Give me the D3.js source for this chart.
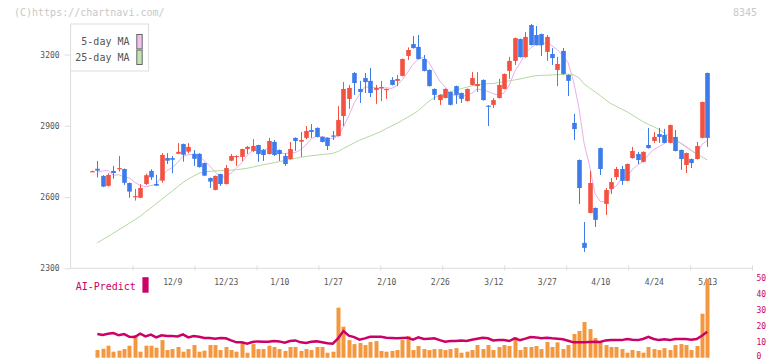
<!DOCTYPE html>
<html><head><meta charset="utf-8">
<script src="https://cdn.jsdelivr.net/npm/d3@7"></script>
<style>body{margin:0;background:#fff}svg{display:block}</style>
</head><body><svg id="c" width="772" height="361"></svg>
<script>
// ---- data (index = trading day) ----
const open=[2707,2719,2689,2647,2710,2719,2718,2659,2601,2597,
2655,2710,2655,2669,2764,2764,2782,2823,2791,2782,
2782,2743,2680,2630,2697,2655,2753,2769,2769,2802,
2794,2819,2798,2781,2832,2798,2773,2760,2849,2833,
2849,2882,2891,2853,2849,2859,2857,2941,3013,3122,
3055,3101,3089,3051,3059,3051,3093,3089,3110,3194,
3244,3232,3181,3135,3055,3008,3017,3042,3067,3038,
3004,3072,3067,3093,2985,2988,3017,3055,3131,3173,
3265,3189,3324,3282,3286,3211,3202,3135,3215,3114,
2912,2756,2407,2533,2554,2806,2571,2634,2684,2718,
2668,2764,2781,2748,2819,2836,2865,2861,2828,2853,
2798,2735,2760,2760,2849,3122];
const high=[2711,2752,2692,2700,2731,2773,2720,2661,2634,2654,
2698,2717,2693,2785,2785,2773,2827,2825,2827,2798,
2784,2745,2682,2690,2698,2735,2781,2775,2803,2815,
2844,2820,2802,2849,2840,2800,2785,2832,2851,2874,
2899,2907,2893,2855,2851,2878,2983,3084,3072,3126,
3089,3122,3143,3072,3089,3056,3105,3114,3183,3230,
3278,3282,3198,3137,3057,3032,3057,3044,3069,3040,
3057,3126,3126,3095,2986,3017,3097,3120,3190,3271,
3267,3295,3328,3320,3288,3282,3227,3190,3227,3116,
2950,2758,2495,2710,2556,2808,2638,2680,2727,2731,
2741,2811,2790,2792,2891,2874,2891,2887,2905,2882,
2800,2787,2762,2832,3002,3124];
const low=[2705,2683,2642,2644,2677,2707,2651,2597,2585,2595,
2651,2672,2646,2660,2739,2700,2780,2749,2784,2731,
2724,2688,2638,2628,2647,2653,2751,2731,2752,2781,
2790,2748,2752,2779,2773,2752,2731,2758,2794,2769,
2844,2849,2851,2830,2798,2840,2855,2899,2971,3030,
2996,3038,3021,2992,3004,3013,3070,3067,3108,3177,
3225,3179,3129,3065,3008,2988,3015,2986,2992,2996,
3002,3070,3042,3006,2899,2975,3015,3053,3097,3156,
3187,3187,3238,3238,3194,3173,3156,3067,3116,3025,
2840,2571,2369,2531,2474,2693,2524,2613,2672,2651,
2666,2762,2739,2746,2804,2828,2828,2826,2826,2792,
2714,2701,2722,2758,2847,2811];
const close=[2709,2711,2644,2693,2701,2722,2660,2623,2604,2638,
2692,2683,2648,2777,2753,2757,2790,2778,2811,2761,
2726,2690,2665,2689,2655,2722,2773,2773,2802,2811,
2815,2781,2777,2836,2777,2781,2739,2802,2836,2840,
2878,2874,2853,2832,2815,2856,2924,3055,3059,3080,
3042,3084,3038,3059,3063,3055,3072,3097,3181,3219,
3227,3181,3131,3067,3030,3030,3055,2988,3030,3013,
3055,3101,3076,3008,2982,3008,3072,3118,3173,3269,
3189,3274,3240,3240,3240,3274,3185,3160,3118,3089,
2886,2638,2386,2659,2504,2718,2630,2663,2718,2668,
2739,2794,2756,2790,2806,2853,2853,2828,2903,2794,
2760,2785,2743,2815,3000,2849];
const ma5=[null,2704,2710,2712,2691,2694,2684,2680,2662,2649,
2643,2648,2653,2688,2711,2724,2745,2771,2778,2779,
2773,2753,2731,2706,2685,2684,2701,2722,2745,2776,
2795,2796,2797,2804,2797,2790,2782,2787,2787,2800,
2819,2846,2856,2855,2850,2846,2856,2896,2942,2995,
3032,3064,3061,3061,3057,3060,3057,3069,3094,3125,
3159,3181,3188,3165,3127,3088,3063,3034,3027,3023,
3028,3037,3055,3051,3044,3035,3029,3038,3071,3128,
3164,3205,3229,3242,3237,3254,3236,3220,3195,3165,
3088,2978,2823,2732,2615,2581,2579,2635,2647,2679,
2684,2716,2735,2749,2777,2800,2812,2826,2849,2846,
2828,2814,2797,2779,2821,2838];
const ma25=[null,2407,2421,2434,2448,2462,2476,2490,2504,2519,
2537,2554,2572,2590,2608,2625,2643,2661,2676,2688,
2700,2706,2708,2710,2711,2712,2713,2715,2718,2721,
2726,2731,2736,2740,2744,2749,2754,2758,2763,2767,
2771,2774,2776,2779,2781,2784,2792,2804,2816,2828,
2839,2848,2857,2866,2876,2888,2899,2910,2923,2936,
2949,2964,2984,3004,3018,3029,3036,3043,3050,3056,
3062,3068,3073,3075,3077,3078,3082,3085,3089,3093,
3097,3102,3107,3111,3112,3113,3114,3115,3116,3117,
3115,3102,3076,3059,3043,3027,3009,2993,2982,2970,
2959,2945,2931,2917,2906,2896,2884,2869,2855,2841,
2826,2811,2796,2782,2769,2756];
const volume=[null,4.8,5.6,7.5,3.75,4.4,5.4,7.5,14.2,3.75,
7.5,7.5,6.25,11,4.8,5.4,6.7,3.75,5.4,7.9,
3.75,4.4,7.9,7.9,4.8,6.7,4.8,3.75,9.4,3.1,
8.5,5.4,5.4,7.5,6.7,5.4,4.2,6.7,6.7,4.2,
5.4,4.8,6.7,6.7,3.1,3.75,31.25,19.4,11,8.5,
9.2,7.9,9.8,10.4,4.2,3.75,4.2,4.8,11,13.5,
4.8,7.3,5.4,4.8,5.4,5.4,4.8,5.4,6,3.1,
3.75,4.8,7.9,5.4,7.9,4.8,6.7,7.9,7.3,12.9,
4.8,6.7,6.7,7.3,5.4,9.8,6.7,9.6,5.4,7.9,
14.8,16.7,22.3,17.9,12.3,9.2,7.9,6.7,6.7,5.4,
3.1,4.8,4.2,3.1,6.7,5.4,4.8,6,4.8,7.9,
8.5,7.9,4.8,7.3,27.5,49.2];
const aiPredict=[null,14.8,14.2,15.0,15.4,14.0,14.8,13.1,12.9,15.0,
13.3,14.4,12.7,14.0,13.5,13.5,13.3,14.6,12.7,13.5,
13.1,12.3,12.3,11.9,12.3,12.1,10.8,9.6,9.6,8.75,
9.8,10.2,10,10,10.4,10.2,9.4,10.4,10.8,9.6,
9.2,10,10.2,9.6,9,8.75,12.1,16.7,13.75,12.9,
11.25,12.1,13.1,13.1,13.1,12.5,12.3,12.1,12.3,12.5,
11.25,12.7,11.7,11.9,12.1,11,10,10.4,10.4,10.8,
10.4,11.25,11.9,12.5,12.1,10.8,11,11,10.4,12.1,
11,11.9,12.9,12.7,12.1,12.5,12.1,11.9,11.5,10.6,
9.6,9.6,9.6,9.8,10,9.8,10.8,11,11,11,
11.7,11.25,11,11.7,13.1,11.7,11,11.5,11,11.7,
11.7,11.7,11.25,11.7,13.75,16.25];
const dateLabels=["12/9","12/23","1/10","1/27","2/10","2/26","3/12","3/27","4/10","4/24","5/13"];
const dateIndex=[15,25,35,45,55,65,75,85,95,105,115];
const priceTicks=[2300,2600,2900,3200];
const volTicks=[0,10,20,30,40,50];

// ---- drawing ----
const svg=d3.select('#c');
const mono='"DejaVu Sans Mono", "Liberation Mono", monospace';
const UP='#f25241', DOWN='#3d7bea', AXIS='#dddddd', TXT='#555555', MAG='#cc0066';
const idx=d3.range(open.length);
const x=d3.scaleLinear().domain([0,115]).range([92,707.25]);
const y=d3.scaleLinear().domain([2300,3200]).range([268.3,54.5]);
const vy=d3.scaleLinear().domain([0,50]).range([357.7,277.7]);
const grid=d3.scaleLinear().domain([0,11]).range([70.6,752]);

// watermark
svg.append('text').attr('x',14).attr('y',15.5).attr('font-family',mono).attr('font-size',10)
  .attr('fill','#c8c8c8').text('(C)https://chartnavi.com/');
svg.append('text').attr('x',757).attr('y',15.5).attr('text-anchor','end').attr('font-family',mono)
  .attr('font-size',10).attr('fill','#c8c8c8').text('8345');

// y axis
const ya=svg.append('g').attr('transform','translate(70.6,0)')
  .call(d3.axisLeft(y).tickValues(priceTicks).tickSize(6).tickPadding(5).tickFormat(d3.format('d')));
ya.select('.domain').remove();
ya.selectAll('line').attr('stroke',AXIS);
ya.selectAll('text').attr('font-family',mono).attr('font-size',8).attr('fill',TXT);
svg.append('line').attr('x1',70.6).attr('x2',70.6).attr('y1',24).attr('y2',y(2300)).attr('stroke',AXIS);

// x axis grid ticks
const xa=svg.append('g').attr('transform',`translate(0,${y(2300)})`)
  .call(d3.axisBottom(grid).tickValues(d3.range(1,12)).tickSize(2).tickFormat(''));
xa.select('.domain').remove();
xa.selectAll('line').attr('stroke',AXIS).attr('y1',-3);
svg.append('line').attr('x1',70.6).attr('x2',752).attr('y1',y(2300)).attr('y2',y(2300)).attr('stroke',AXIS);

// date labels
const xl=svg.append('g').attr('transform',`translate(0,${y(2300)})`)
  .call(d3.axisBottom(x).tickValues(dateIndex).tickSize(0).tickPadding(11).tickFormat((d,i)=>dateLabels[i]));
xl.select('.domain').remove();
xl.selectAll('text').attr('font-family',mono).attr('font-size',8).attr('fill',TXT);

// moving averages
const lineOf=(arr)=>d3.line().defined(i=>arr[i]!=null).x(i=>x(i)).y(i=>y(arr[i]));
svg.append('path').datum(idx).attr('d',lineOf(ma25)).attr('fill','none').attr('stroke','#b3d9a3').attr('stroke-width',1);
svg.append('path').datum(idx).attr('d',lineOf(ma5)).attr('fill','none').attr('stroke','#e8b0ea').attr('stroke-width',1);

// candles
const cw=4.6;
const cg=svg.append('g').selectAll('g').data(idx).join('g')
  .attr('fill',i=>close[i]>=open[i]?UP:DOWN).attr('stroke',i=>close[i]>=open[i]?UP:DOWN);
cg.append('line').attr('x1',i=>Math.round(x(i))+0.5).attr('x2',i=>Math.round(x(i))+0.5)
  .attr('y1',i=>y(high[i])).attr('y2',i=>y(low[i])).attr('stroke-width',1);
cg.append('rect').attr('stroke','none')
  .attr('x',i=>Math.round(x(i))+0.5-cw/2).attr('width',cw)
  .attr('y',i=>y(Math.max(open[i],close[i])))
  .attr('height',i=>Math.max(1.2,y(Math.min(open[i],close[i]))-y(Math.max(open[i],close[i]))));

// legend
svg.append('rect').attr('x',70.6).attr('y',24).attr('width',78).attr('height',47)
  .attr('fill','#fff').attr('stroke',AXIS);
[['5-day MA','#f0c0f0',41.7],['25-day MA','#c2e3b3',57.3]].forEach(([t,c,cy])=>{
  svg.append('text').attr('x',129.5).attr('y',cy).attr('dy','0.35em').attr('text-anchor','end')
    .attr('font-family',mono).attr('font-size',10).attr('fill',TXT).text(t);
  svg.append('rect').attr('x',136.8).attr('y',cy-7.2).attr('width',5.4).attr('height',14.4)
    .attr('fill',c).attr('stroke','#666');
});

// volume panel
svg.append('g').selectAll('rect').data(idx.filter(i=>volume[i]!=null)).join('rect')
  .attr('x',i=>Math.round(x(i))+0.5-2).attr('width',4)
  .attr('y',i=>vy(volume[i])).attr('height',i=>vy(0)-vy(volume[i])).attr('fill','#f3983f');
svg.append('path').datum(idx).attr('d',d3.line().defined(i=>aiPredict[i]!=null).x(i=>x(i)).y(i=>vy(aiPredict[i])))
  .attr('fill','none').attr('stroke',MAG).attr('stroke-width',2.5);

const ra=svg.append('g').attr('transform','translate(752,0)')
  .call(d3.axisRight(vy).tickValues(volTicks).tickSize(0).tickPadding(4.5));
ra.select('.domain').remove();
ra.selectAll('text').attr('font-family',mono).attr('font-size',8).attr('fill',MAG)
  .attr('dy',d=>d===0?'0.05em':'0.32em');

svg.append('text').attr('x',75.7).attr('y',286.3).attr('dy','0.35em').attr('font-family',mono)
  .attr('font-size',10).attr('fill',MAG).text('AI-Predict');
svg.append('rect').attr('x',142.4).attr('y',277.2).attr('width',6.2).attr('height',15.5).attr('fill',MAG);
</script></body></html>
